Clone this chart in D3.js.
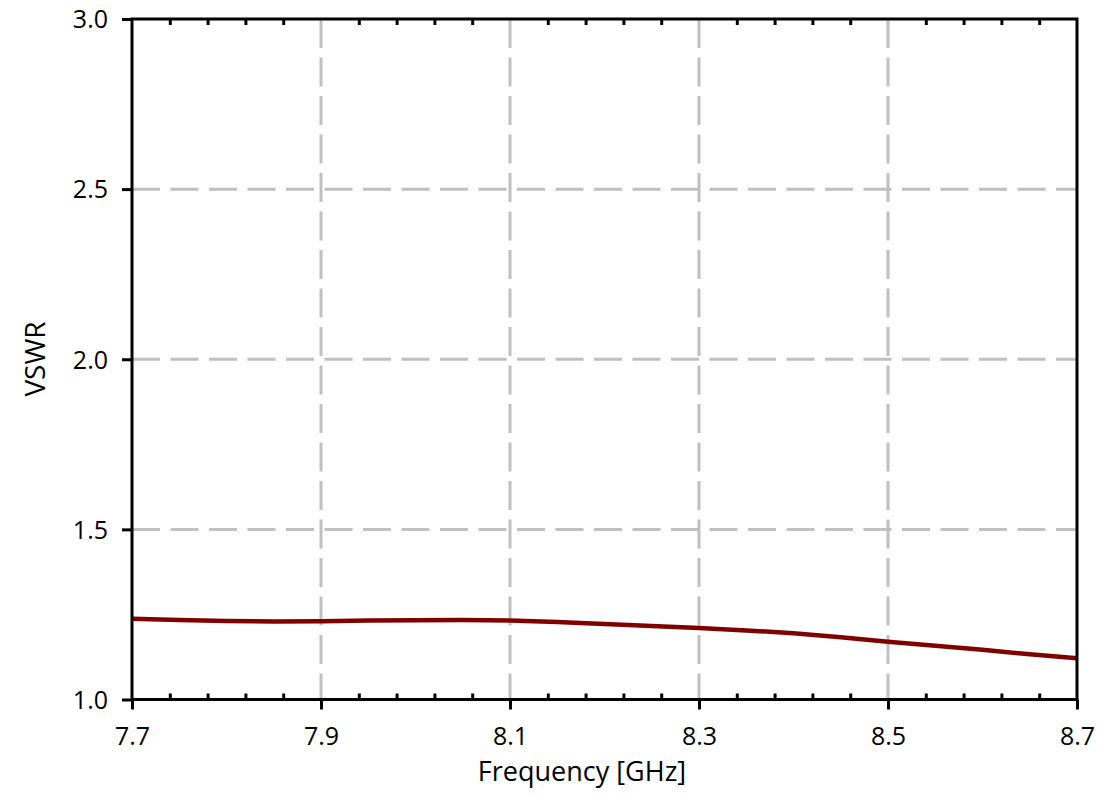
<!DOCTYPE html>
<html><head><meta charset="utf-8">
<script src="https://cdn.jsdelivr.net/npm/d3@7"></script>
<style>body{margin:0;background:#fff}svg{display:block}text{font-family:"Open Sans",sans-serif;fill:#000}</style>
</head><body><svg id="c" width="1108" height="798"></svg>
<script>
const freq = [7.70,7.75,7.80,7.85,7.90,7.95,8.00,8.05,8.10,8.15,8.20,8.25,8.30,8.35,8.40,8.45,8.50,8.55,8.60,8.65,8.70];
const vswr = [1.237,1.234,1.231,1.229,1.230,1.232,1.233,1.234,1.232,1.228,1.222,1.216,1.210,1.203,1.195,1.183,1.170,1.158,1.146,1.133,1.121];
const xTicks = [7.7,7.9,8.1,8.3,8.5,8.7];
const xTickLabels = ["7.7","7.9","8.1","8.3","8.5","8.7"];
const yTicks = [1.0,1.5,2.0,2.5,3.0];
const yTickLabels = ["1.0","1.5","2.0","2.5","3.0"];
const xMinor = d3.range(0,26).map(i=>7.7+i*0.04);
const xTitle = "Frequency [GHz]";
const yTitle = "VSWR";

const L=132,R=1077,T=19,B=699.5;
const svg=d3.select("#c");
const x=d3.scaleLinear().domain([7.7,8.7]).range([L,R]);
const y=d3.scaleLinear().domain([1,3]).range([B,T]);

// grid
const g=svg.append("g");
g.selectAll(".vg").data(xTicks.slice(1,-1)).enter().append("line")
 .attr("x1",d=>x(d)).attr("x2",d=>x(d)).attr("y1",T).attr("y2",B)
 .attr("stroke","#c0c0c0").attr("stroke-width",3).attr("stroke-dasharray","29,9.5");
g.selectAll(".hg").data(yTicks.slice(1,-1)).enter().append("line")
 .attr("x1",L).attr("x2",R).attr("y1",d=>y(d)).attr("y2",d=>y(d))
 .attr("stroke","#c0c0c0").attr("stroke-width",3).attr("stroke-dasharray","28,10.5");

// curve
svg.append("path").datum(freq.map((f,i)=>[f,vswr[i]]))
 .attr("fill","none").attr("stroke","#800000").attr("stroke-width",4.5)
 .attr("d",d3.line().x(d=>x(d[0])).y(d=>y(d[1])));

// axes
const minorVals = xMinor.filter(v=>Math.abs((v-7.7)/0.2-Math.round((v-7.7)/0.2))>1e-6);
const xb=svg.append("g").attr("transform",`translate(0,${B})`)
 .call(d3.axisBottom(x).tickValues(xTicks).tickFormat((d,i)=>xTickLabels[i]).tickSize(10).tickPadding(18));
const xbm=svg.append("g").attr("transform",`translate(0,${B})`)
 .call(d3.axisTop(x).tickValues(minorVals).tickFormat("").tickSize(6));
const xtm=svg.append("g").attr("transform",`translate(0,${T})`)
 .call(d3.axisBottom(x).tickValues(minorVals).tickFormat("").tickSize(6));
const yl=svg.append("g").attr("transform",`translate(${L},0)`)
 .call(d3.axisLeft(y).tickValues(yTicks).tickFormat((d,i)=>yTickLabels[i]).tickSize(10).tickPadding(14));
svg.append("rect").attr("x",L).attr("y",T).attr("width",R-L).attr("height",B-T)
 .attr("fill","none").attr("stroke","#000").attr("stroke-width",3);
[xb,xbm,xtm,yl].forEach(a=>{a.select(".domain").remove();
 a.selectAll(".tick line").attr("stroke","#000").attr("stroke-width",3);
 a.selectAll(".tick text").attr("font-size",25).attr("font-family","'Open Sans',sans-serif").attr("fill","#000");});
xb.selectAll(".tick text").attr("dy","0.71em");
yl.selectAll(".tick text").attr("dy","0.35em");

svg.append("text").attr("x",582).attr("y",781).attr("text-anchor","middle")
 .attr("font-size",27).text(xTitle);
svg.append("text").attr("transform",`translate(45,359) rotate(-90)`).attr("text-anchor","middle")
 .attr("font-size",28).text(yTitle);
</script></body></html>
